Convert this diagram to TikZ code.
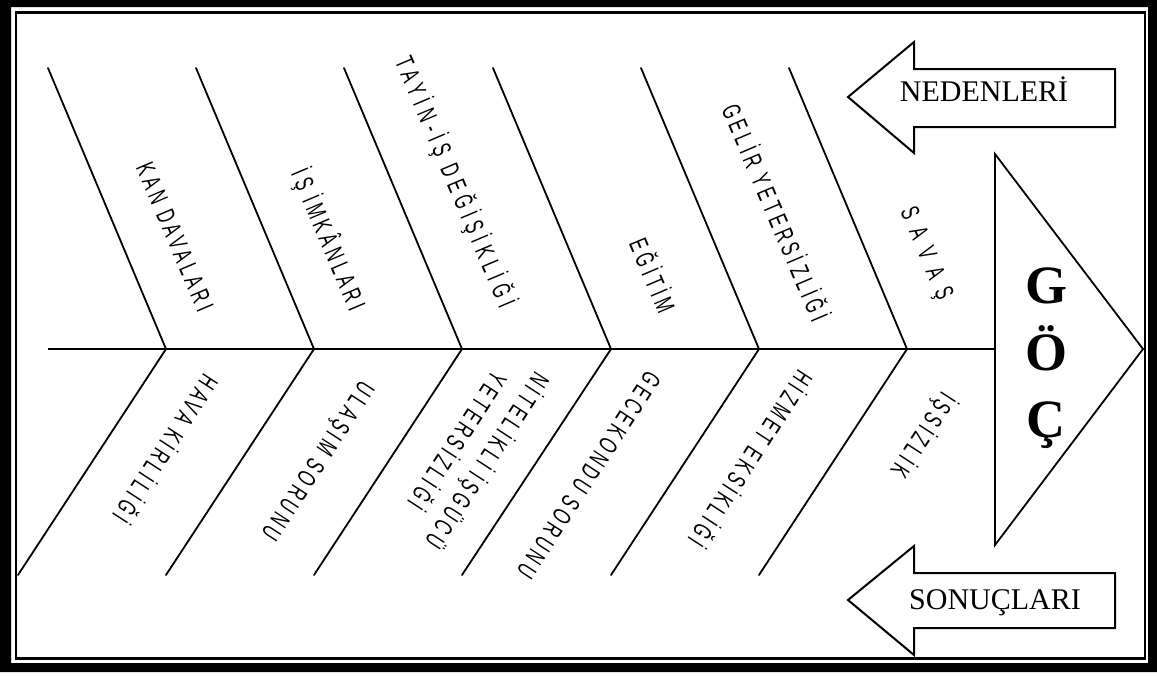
\documentclass[tikz,border=0pt]{standalone}
\usepackage{fontspec}
\setmainfont{Liberation Serif}
\newfontfamily\bonefont[FakeStretch=0.62, LetterSpace=17]{Liberation Sans}
\usetikzlibrary{positioning, calc}

\tikzset{
    bone/.style={line width=1.8pt, line cap=round},
    causelbl/.style={font=\bonefont\fontsize{26}{36}\selectfont, rotate=-67, inner sep=0pt},
    effectlbl/.style={font=\bonefont\fontsize{26}{36}\selectfont, rotate=-123, inner sep=0pt, align=center},
    bigarrow/.style={draw, line width=2pt, line join=miter, fill=white},
    arrowtext/.style={font=\fontsize{30}{36}\selectfont, anchor=base, inner sep=0pt}
}

\begin{document}
\begin{tikzpicture}[x=1pt, y=-1pt]
    \useasboundingbox (0,0) rectangle (1157,675);
    % frame
    \fill[black, even odd rule] (0,0) rectangle (1157,672) (11,7) rectangle (1148,663);
    \draw[line width=2.5pt] (16,12.5) rectangle (1145,658.5);

    % spine and head
    \coordinate (tail) at (48,349);
    \coordinate (gtop) at (995,154);
    \coordinate (gbot) at (995,545);
    \coordinate (gtip) at (1143,349);
    \coordinate (gmid) at (995,349);
    \draw[line width=1.8pt] (gtop) -- (gtip) -- (gbot) -- cycle;
    \draw[line width=1.6pt] (tail) -- (gmid);
    \node[font=\bfseries\fontsize{54}{67}\selectfont, align=center, inner sep=0pt] (goc) at (1046,358) {G\\Ö\\Ç};

    % junctions on the spine
    \coordinate (j1) at (166,349);
    \coordinate (j2) at (314,349);
    \coordinate (j3) at (462,349);
    \coordinate (j4) at (611,349);
    \coordinate (j5) at (759,349);
    \coordinate (j6) at (907,349);
    % upper ends
    \coordinate (t1) at (48,68);
    \coordinate (t2) at (196,68);
    \coordinate (t3) at (344,68);
    \coordinate (t4) at (493,68);
    \coordinate (t5) at (641,68);
    \coordinate (t6) at (789,68);
    % lower ends
    \coordinate (b1) at (18,575);
    \coordinate (b2) at (166,575);
    \coordinate (b3) at (314,575);
    \coordinate (b4) at (462,575);
    \coordinate (b5) at (611,575);
    \coordinate (b6) at (759,575);

    \draw[bone] (t1) -- (j1) -- (b1);
    \draw[bone] (t2) -- (j2) -- (b2);
    \draw[bone] (t3) -- (j3) -- (b3);
    \draw[bone] (t4) -- (j4) -- (b4);
    \draw[bone] (t5) -- (j5) -- (b5);
    \draw[bone] (t6) -- (j6) -- (b6);

    % causes
    \node[causelbl] (kan) at (175,237) {KAN DAVALARI};
    \node[causelbl] (imkan) at (328,240) {İŞ İMKÂNLARI};
    \node[causelbl, font=\bonefont\fontsize{26}{36}\selectfont\addfontfeature{LetterSpace=22}] (tayin) at (455,182) {TAYİN-İŞ DEĞİŞİKLİĞİ};
    \node[causelbl] (egitim) at (654,275) {EĞİTİM};
    \node[causelbl] (gelir) at (777,212) {GELİR YETERSİZLİĞİ};
    \node[causelbl, font=\bonefont\fontsize{26}{36}\selectfont\addfontfeature{LetterSpace=45}] (savas) at (925,254) {SAVAŞ};

    % results
    \node[effectlbl] (hava) at (167,450) {HAVA KİRLİLİĞİ};
    \node[effectlbl] (ulasim) at (316,460) {ULAŞIM SORUNU};
    \node[effectlbl] (isgucu) at (474,452) {NİTELİKLİ İŞGÜCÜ\\YETERSİZLİĞİ};
    \node[effectlbl] (gecekondu) at (589,475) {GECEKONDU SORUNU};
    \node[effectlbl] (hizmet) at (752,460) {HİZMET EKSİKLİĞİ};
    \node[effectlbl] (issizlik) at (923,435) {İŞSİZLİK};

    % the two arrows
    \draw[bigarrow] (848,97) -- (914,42) -- (914,69) -- (1115,69) -- (1115,127) -- (914,127) -- (914,153) -- cycle;
    \node[arrowtext] (neden) at (984,101) {NEDENLERİ};
    \draw[bigarrow] (848,600) -- (914,546) -- (914,573) -- (1115,573) -- (1115,628) -- (914,628) -- (914,655) -- cycle;
    \node[arrowtext] (sonuc) at (995,609) {SONUÇLARI};
\end{tikzpicture}
\end{document}
